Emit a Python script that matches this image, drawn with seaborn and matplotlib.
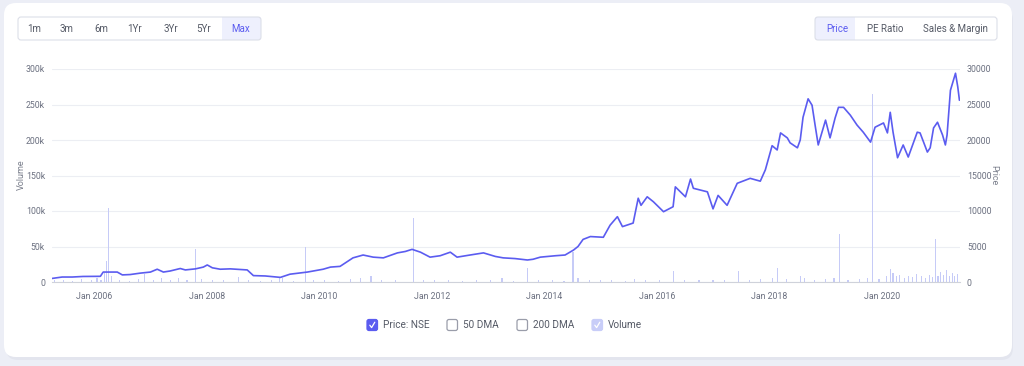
import numpy as np
import pandas as pd
import matplotlib.pyplot as plt
import seaborn as sns
from matplotlib.patches import FancyBboxPatch, Rectangle

# Price (NSE), x in decimal years
price_years = [2005.25, 2005.43, 2005.61, 2005.80, 2006.11, 2006.16, 2006.41, 2006.50, 2006.64, 2006.82,
               2007.00, 2007.12, 2007.23, 2007.35, 2007.53, 2007.62, 2007.80, 2007.94, 2008.01, 2008.10,
               2008.24, 2008.42, 2008.72, 2008.83, 2009.04, 2009.31, 2009.48, 2009.79, 2010.07, 2010.20,
               2010.37, 2010.60, 2010.78, 2010.96, 2011.14, 2011.39, 2011.53, 2011.65, 2011.80, 2011.97,
               2012.15, 2012.33, 2012.45, 2012.68, 2012.92, 2013.13, 2013.27, 2013.48, 2013.70, 2013.80,
               2013.93, 2014.20, 2014.37, 2014.52, 2014.60, 2014.69, 2014.82, 2015.05, 2015.17, 2015.30,
               2015.39, 2015.58, 2015.67, 2015.72, 2015.83, 2015.94, 2016.12, 2016.29, 2016.33, 2016.51,
               2016.60, 2016.65, 2016.90, 2017.00, 2017.09, 2017.25, 2017.43, 2017.66, 2017.84, 2017.93,
               2018.05, 2018.14, 2018.20, 2018.32, 2018.37, 2018.50, 2018.55, 2018.60, 2018.69, 2018.76,
               2018.82, 2018.87, 2019.00, 2019.08, 2019.17, 2019.23, 2019.32, 2019.44, 2019.56, 2019.67,
               2019.80, 2019.88, 2020.03, 2020.10, 2020.15, 2020.20, 2020.28, 2020.38, 2020.47, 2020.63,
               2020.68, 2020.81, 2020.86, 2020.92, 2020.99, 2021.08, 2021.13, 2021.16, 2021.22, 2021.31,
               2021.35, 2021.38]
price_values = [500, 700, 700, 780, 800, 1400, 1400, 1000, 1050, 1250,
                1400, 1800, 1400, 1550, 1900, 1700, 1850, 2100, 2400, 2000,
                1800, 1850, 1700, 900, 850, 650, 1100, 1400, 1800, 2100,
                2200, 3400, 3800, 3500, 3400, 4100, 4300, 4600, 4200, 3500,
                3700, 4200, 3500, 3800, 4100, 3600, 3400, 3300, 3100, 3200,
                3500, 3700, 3800, 4500, 5000, 6000, 6400, 6300, 8000, 9200,
                7800, 8300, 11800, 10800, 12000, 11300, 9900, 10600, 13400, 12000,
                14500, 13200, 12700, 10300, 12200, 10800, 13900, 14600, 14200, 15800,
                19200, 18600, 21000, 20300, 19600, 18900, 20000, 23200, 25800, 24900,
                21800, 19300, 22800, 20300, 23100, 24600, 24600, 23500, 22100, 21100,
                19700, 21800, 22400, 21000, 23900, 21100, 17500, 19300, 17600, 21100,
                21000, 18300, 18900, 21700, 22500, 20700, 19300, 20700, 27000, 29400,
                27500, 25600]

# Volume bars
volume_years = [2005.30, 2005.45, 2005.62, 2005.78, 2005.95, 2006.05, 2006.12, 2006.18, 2006.22, 2006.25,
                2006.30, 2006.45, 2006.62, 2006.78, 2006.90, 2007.05, 2007.20, 2007.35, 2007.50, 2007.65,
                2007.80, 2007.90, 2008.10, 2008.30, 2008.56, 2008.75, 2008.95, 2009.15, 2009.30, 2009.35,
                2009.55, 2009.75, 2009.90, 2010.10, 2010.35, 2010.55, 2010.73, 2010.92, 2011.10, 2011.35,
                2011.67, 2011.85, 2012.05, 2012.30, 2012.55, 2012.80, 2013.05, 2013.25, 2013.45, 2013.70,
                2013.90, 2014.15, 2014.35, 2014.51, 2014.60, 2014.80, 2015.00, 2015.20, 2015.45, 2015.60,
                2015.80, 2016.05, 2016.30, 2016.50, 2016.75, 2017.00, 2017.20, 2017.45, 2017.65, 2017.85,
                2018.05, 2018.14, 2018.30, 2018.55, 2018.62, 2018.80, 2019.00, 2019.15, 2019.25, 2019.40,
                2019.60, 2019.75, 2019.84, 2019.95, 2020.08, 2020.15, 2020.20, 2020.26, 2020.32, 2020.40,
                2020.47, 2020.55, 2020.62, 2020.70, 2020.78, 2020.85, 2020.90, 2020.95, 2021.00, 2021.05,
                2021.10, 2021.15, 2021.20, 2021.25, 2021.30, 2021.35]
volume_values = [2500, 3500, 2000, 4500, 3000, 6000, 2500, 12000, 30000, 104000,
                 8000, 3000, 2000, 4000, 11000, 3000, 5000, 2500, 6000, 3000,
                 47000, 4000, 2500, 3500, 7000, 2500, 2000, 3000, 6000, 5000,
                 2000, 50000, 2500, 3000, 2000, 4000, 6000, 8000, 3000, 2500,
                 90000, 3000, 2500, 3000, 2000, 3500, 2500, 5000, 2000, 20000,
                 2500, 3000, 2000, 42000, 5000, 3000, 2500, 3500, 2000, 4000,
                 2500, 3000, 15000, 3000, 2500, 3500, 2500, 15000, 3000, 4000,
                 5000, 20000, 4000, 9000, 6000, 3000, 4000, 5000, 68000, 3000,
                 4000, 5000, 265000, 4000, 9000, 18000, 12000, 8000, 10000, 6000,
                 9000, 7000, 11000, 8000, 6000, 10000, 7000, 60000, 9000, 14000,
                 10000, 17000, 8000, 12000, 9000, 11000]

x_tick_years = [2006, 2008, 2010, 2012, 2014, 2016, 2018, 2020]
x_tick_labels = ['Jan 2006', 'Jan 2008', 'Jan 2010', 'Jan 2012', 'Jan 2014', 'Jan 2016', 'Jan 2018', 'Jan 2020']
volume_ticks = [0, 50000, 100000, 150000, 200000, 250000, 300000]
volume_tick_labels = ['0', '50k', '100k', '150k', '200k', '250k', '300k']
price_ticks = [0, 5000, 10000, 15000, 20000, 25000, 30000]

range_buttons = ['1m', '3m', '6m', '1Yr', '3Yr', '5Yr', 'Max']
view_buttons = ['Price', 'PE Ratio', 'Sales & Margin']
legend_labels = ['Price: NSE', '50 DMA', '200 DMA', 'Volume']

LINE = '#5b5cf0'
BAR = '#c6cbf7'
TXT = '#555a66'
TICK = '#6b7080'
GRID = '#eceef3'

sns.set_theme(style='white')
plt.rcParams['font.family'] = ['Roboto', 'DejaVu Sans']

fig = plt.figure(figsize=(10.24, 3.66), dpi=100)
fig.patch.set_facecolor('#eceef6')

# background axes in pixel coordinates for card, buttons and legend
bg = fig.add_axes([0, 0, 1, 1])
bg.set_xlim(0, 1024)
bg.set_ylim(366, 0)
bg.axis('off')

bg.add_patch(FancyBboxPatch((6, 8), 1007, 352, boxstyle='round,pad=0,rounding_size=12',
                            fc='#dde0ea', ec='none', alpha=0.6))
bg.add_patch(FancyBboxPatch((4, 3), 1008, 354, boxstyle='round,pad=0,rounding_size=12',
                            fc='white', ec='none'))

# range buttons
bg.add_patch(Rectangle((222, 17), 39, 23, fc='#eef0fd', ec='none'))
bg.add_patch(FancyBboxPatch((18, 17), 243, 23, boxstyle='round,pad=0,rounding_size=3',
                            fc='none', ec='#dcdfe8', lw=0.8))
range_x = [34, 67, 101, 134, 171, 204, 241]
for lbl, cx in zip(range_buttons, range_x):
    bg.text(cx, 29, lbl, ha='center', va='center', fontsize=7,
            color='#5b5cf0' if lbl == 'Max' else TXT)

# view buttons
bg.add_patch(Rectangle((815, 17), 40, 23, fc='#eef0fd', ec='none'))
bg.add_patch(FancyBboxPatch((815, 17), 182, 23, boxstyle='round,pad=0,rounding_size=3',
                            fc='none', ec='#dcdfe8', lw=0.8))
view_x = [837, 885, 955]
for lbl, cx in zip(view_buttons, view_x):
    bg.text(cx, 29, lbl, ha='center', va='center', fontsize=7,
            color='#5b5cf0' if lbl == 'Price' else TXT)

# legend checkboxes
box_x = [367, 447, 517, 592]
box_fc = [LINE, 'white', 'white', '#c8cdf8']
box_ec = [LINE, '#9a9daa', '#9a9daa', '#c8cdf8']
for lbl, bx, fc, ec in zip(legend_labels, box_x, box_fc, box_ec):
    bg.add_patch(FancyBboxPatch((bx, 319.5), 10.5, 11, boxstyle='round,pad=0,rounding_size=2',
                                fc=fc, ec=ec, lw=0.9))
    if fc != 'white':
        bg.plot([bx + 2.8, bx + 4.6, bx + 7.8], [325.2, 327.6, 322.2], color='white', lw=0.9)
    bg.text(bx + 16, 325, lbl, ha='left', va='center', fontsize=7.2, color=TXT)

bg.text(21, 175, 'Volume', rotation=90, ha='center', va='center', fontsize=6.5, color='#7a7f8c')
bg.text(994, 175, 'Price', rotation=270, ha='center', va='center', fontsize=6.5, color='#7a7f8c')

# main chart
ax = fig.add_axes([52 / 1024, 1 - 282 / 366, (960 - 52) / 1024, (282 - 69) / 366])
ax.set_facecolor('none')
ax.bar(volume_years, volume_values, width=0.02, color=BAR, linewidth=0)
ax.set_xlim(2005.25, 2021.39)
ax.set_ylim(0, 300000)
ax.set_yticks(volume_ticks)
ax.set_yticklabels(volume_tick_labels)
ax.set_xticks(x_tick_years)
ax.set_xticklabels(x_tick_labels)
ax.grid(axis='y', color=GRID, lw=0.8)
ax.set_axisbelow(True)
for side in ['top', 'left', 'right']:
    ax.spines[side].set_visible(False)
ax.spines['bottom'].set_color('#cfd2da')
ax.spines['bottom'].set_linewidth(0.8)
ax.tick_params(axis='x', length=4, color='#cfd2da', labelsize=6.3, labelcolor=TICK, pad=3)
ax.tick_params(axis='y', length=0, labelsize=6.3, labelcolor=TICK, pad=5)

ax2 = ax.twinx()
sns.lineplot(x=price_years, y=price_values, ax=ax2, color=LINE, linewidth=1.2)
ax2.set_ylim(0, 30000)
ax2.set_yticks(price_ticks)
ax2.set_yticklabels([str(t) for t in price_ticks])
ax2.set_ylabel('')
for side in ['top', 'left', 'right', 'bottom']:
    ax2.spines[side].set_visible(False)
ax2.tick_params(axis='y', length=0, labelsize=6.3, labelcolor=TICK, pad=5)

fig.savefig('out.png', dpi=100, facecolor=fig.get_facecolor())
